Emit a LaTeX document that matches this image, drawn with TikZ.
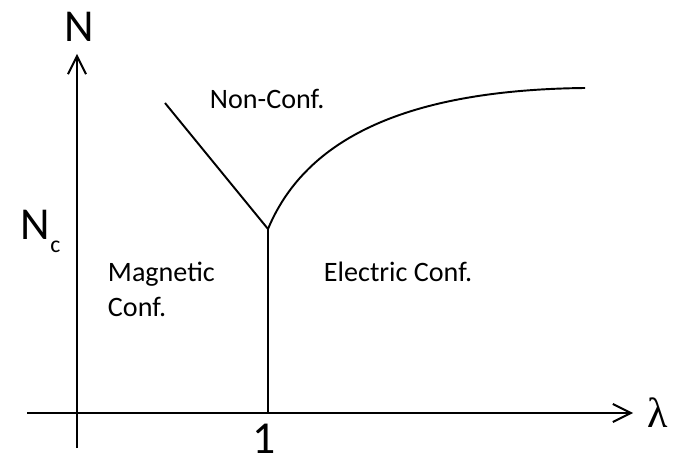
\documentclass[tikz,border=0pt]{standalone}
\usepackage{fontspec}
\setmainfont{Carlito}
\newfontfamily\lamfont{Liberation Serif}
\usetikzlibrary{arrows.meta}
\begin{document}
\begin{tikzpicture}[x=0.02cm, y=-0.02cm, every node/.style={inner sep=0pt}, line width=1.1pt, big/.style={font=\fontsize{26}{30}\selectfont}, small/.style={font=\fontsize{16}{20}\selectfont, align=left}, >={Straight Barb[length=3.6mm, width=3.6mm]}]
        \useasboundingbox (0,0) rectangle (679,465);
        % axes
        \coordinate (o1) at (77,448);
        \coordinate (ytip) at (77,54);
        \coordinate (o2) at (27,413);
        \coordinate (xtip) at (633,413);
        \draw[->] (o1) -- (ytip);
        \draw[->] (o2) -- (xtip);
        \node[big, anchor=base] (N) at (79,42) {N};
        \node[font=\fontsize{24}{30}\lamfont, anchor=base] (lam) at (658,427) {λ};
        \node[big, anchor=base west] (Nc) at (20,240) {N\raisebox{-7.4pt}{\fontsize{13.5}{14}\selectfont c}};
        \node[big, anchor=base] (one) at (264,454) {1};
        % phase boundaries
        \coordinate (tri) at (268,229);
        \coordinate (base) at (268,413);
        \coordinate (left) at (165,103);
        \coordinate (right) at (585,88);
        \draw (left) -- (tri);
        \draw (tri) .. controls (303,145) and (395,90) .. (right);
        \draw (tri) -- (base);
        % regions
        \node[small, anchor=base west] (nonconf) at (209,109) {Non-Conf.};
        \node[small, anchor=base west] (mag) at (107,282) {Magnetic};
        \node[small, anchor=base west] (magconf) at (107,317) {Conf.};
        \node[small, anchor=base west] (elec) at (323,282) {Electric Conf.};
    \end{tikzpicture}
\end{document}
